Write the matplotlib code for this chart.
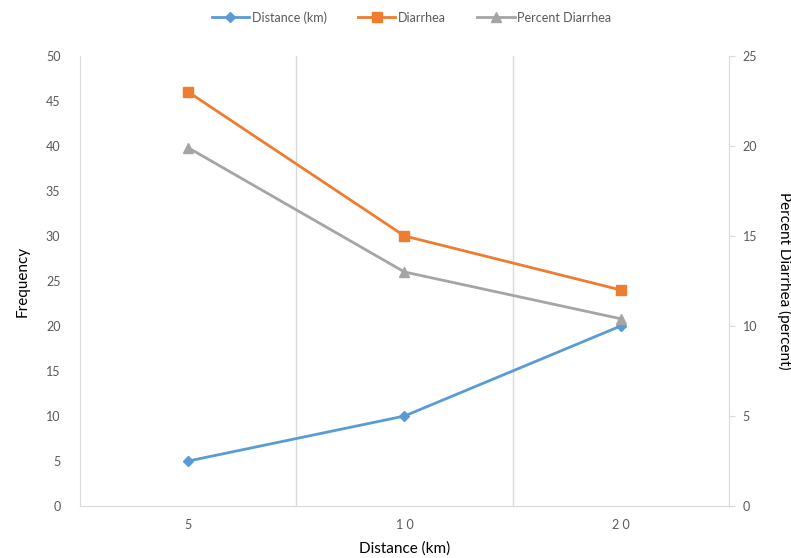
import matplotlib.pyplot as plt
import numpy as np

plt.rcParams['font.family'] = ['Lato', 'DejaVu Sans']

# data
categories = ["5", "10", "20"]
tick_labels = ["5", "1 0", "2 0"]
distance_km = [5, 10, 20]
diarrhea = [46, 30, 24]
percent_diarrhea = [19.9, 13.0, 10.4]

blue = "#5B9BD5"
orange = "#ED7D31"
gray = "#A5A5A5"
txt = "#595959"
grid = "#D9D9D9"

fig = plt.figure(figsize=(7.91, 5.58), dpi=100)
ax = fig.add_axes([0.101, 0.093, 0.8205, 0.807])
ax2 = ax.twinx()

x = np.arange(len(categories))
l1, = ax.plot(x, distance_km, color=blue, lw=2, marker="D", ms=5, label="Distance (km)")
l2, = ax.plot(x, diarrhea, color=orange, lw=2, marker="s", ms=7, label="Diarrhea")
l3, = ax2.plot(x, percent_diarrhea, color=gray, lw=2, marker="^", ms=7, label="Percent Diarrhea")

ax.set_xlim(-0.5, len(categories) - 0.5)
ax.set_ylim(0, 50)
ax.set_yticks(range(0, 51, 5))
ax2.set_ylim(0, 25)
ax2.set_yticks(range(0, 26, 5))

ax.set_xticks(x)
ax.set_xticklabels(tick_labels)
for b in [0.5, 1.5]:
    ax.axvline(b, color=grid, lw=1, zorder=0)

for a in (ax, ax2):
    for s in a.spines.values():
        s.set_visible(False)
    a.tick_params(colors=txt, labelsize=9)
ax.spines["bottom"].set_visible(True)
ax.spines["bottom"].set_color(grid)
ax.spines["left"].set_visible(True)
ax.spines["left"].set_color(grid)
ax2.spines["right"].set_visible(True)
ax2.spines["right"].set_color(grid)

ax.tick_params(axis="y", length=0, pad=14)
ax.tick_params(axis="x", length=0, pad=9)
ax2.tick_params(axis="y", length=4, color=grid, pad=6)

ax.set_ylabel("Frequency", fontsize=11, color="black", labelpad=12)
ax2.set_ylabel("Percent Diarrhea (percent)", fontsize=11, color="black", rotation=-90, labelpad=25)
ax.set_xlabel("Distance (km)", fontsize=11, color="black", labelpad=8)

fig.legend(handles=[l1, l2, l3], loc="upper center", bbox_to_anchor=(0.52, 1.0),
           ncol=3, frameon=False, fontsize=9, labelcolor=txt,
           handlelength=3, columnspacing=2.5, handletextpad=0.2)

fig.savefig("out.png", dpi=100)
